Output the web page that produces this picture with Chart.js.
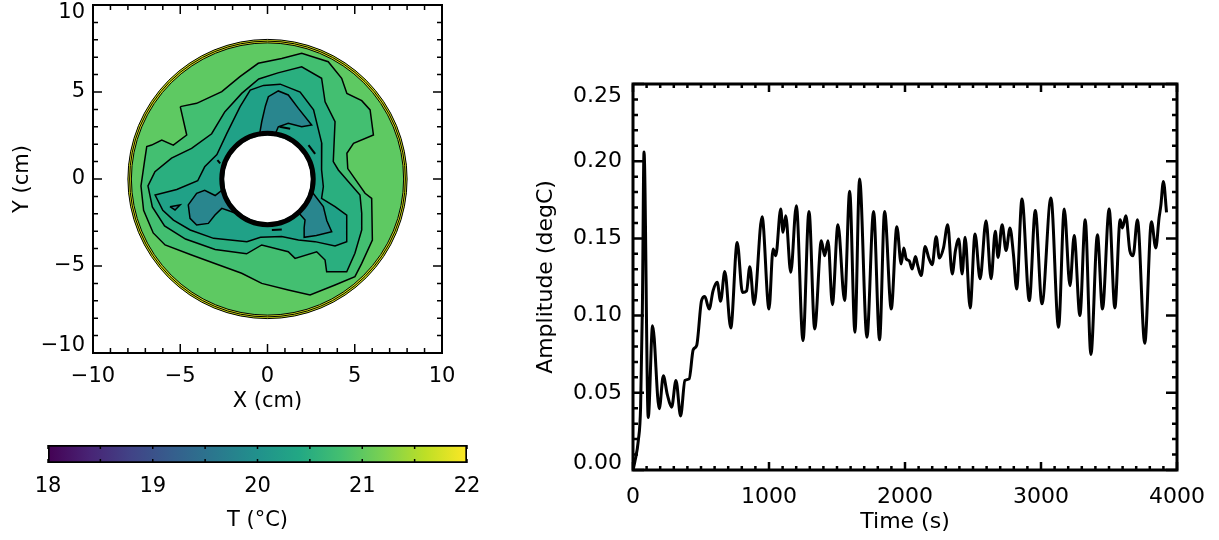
<!DOCTYPE html>
<html>
<head>
<meta charset="utf-8">
<title>Temperature map and amplitude</title>
<script src="https://cdn.jsdelivr.net/npm/chart.js@4.4.1/dist/chart.umd.min.js"></script>
<style>
  html, body { margin: 0; padding: 0; background: #fff; }
  body { width: 1219px; height: 540px; position: relative; overflow: hidden; }
  canvas { position: absolute; }
  #mapChart { left: 0; top: 0; }
  #barChart { left: 0; top: 420px; }
  #ampChart { left: 520px; top: 0; }
</style>
</head>
<body>
<canvas id="mapChart" width="470" height="420"></canvas>
<canvas id="barChart" width="490" height="120"></canvas>
<canvas id="ampChart" width="699" height="540"></canvas>
<script>
Chart.defaults.font.family = '"DejaVu Sans", "Liberation Sans", sans-serif';
Chart.defaults.color = '#000';

// ---- left panel: temperature map, positions in cm ----
const mapTicks = [-10, -5, 0, 5, 10];
const outerRadius = 8.0;
const rimRadii = [8.0, 7.9, 7.8];
const holeRadius = 2.5;
const holeRingRadius = 2.62;
// outside contour 1, then each band going inwards
const bandColors = ['#5ec962', '#43bf71', '#2aaf7f', '#20a187', '#29868e'];
const rimColor = '#d6e21c';

const contour1 = [
  [-5.0, 4.16], [-4.06, 4.35], [-2.62, 5.02], [-1.58, 5.88], [-0.53, 6.65], [0.81, 6.93],
  [1.96, 7.22], [3.48, 6.74], [4.25, 5.79], [4.55, 4.92], [5.4, 4.5], [5.88, 3.97],
  [6.07, 2.53], [4.93, 2.05], [4.55, 1.48], [4.6, 0.6], [5.59, -0.82], [5.97, -1.11],
  [6.01, -3.51], [5.4, -4.85], [5.01, -5.61], [3.87, -6.09], [2.44, -6.67], [1.19, -6.38],
  [-0.33, -6.0], [-1.48, -5.42], [-2.9, -4.9], [-4.35, -4.37], [-5.87, -3.79], [-6.55, -3.1],
  [-7.1, -1.8], [-7.25, -0.4], [-7.05, 1.0], [-6.92, 1.86], [-6.64, 1.95], [-6.06, 2.24],
  [-5.4, 1.95], [-4.63, 2.53]
];
const contour2 = [
  [-2.44, 3.87], [-1.48, 4.92], [-0.5, 5.75], [0.6, 6.1], [1.96, 6.45], [3.1, 5.79],
  [3.3, 4.44], [3.87, 3.29], [3.77, 1.0], [4.06, 0.52], [5.3, -0.92], [5.4, -1.97],
  [5.4, -2.93], [5.01, -4.27], [4.54, -5.33], [3.39, -5.33], [3.3, -4.66], [2.82, -4.18],
  [1.58, -4.56], [1.19, -4.18], [-0.33, -3.79], [-1.2, -4.3], [-3.0, -4.05], [-4.7, -3.45],
  [-5.9, -2.7], [-6.6, -1.6], [-6.85, -0.4], [-6.45, 0.42], [-5.5, 1.2], [-4.35, 1.76],
  [-3.2, 2.6]
];
const contour3 = [
  [-1.57, 4.16], [-0.99, 5.11], [-0.23, 5.38], [0.73, 5.45], [1.87, 5.0], [2.64, 3.97],
  [3.11, 2.05], [3.1, 0.52], [3.2, -0.44], [3.1, -1.11], [3.87, -1.59], [4.54, -2.07],
  [4.54, -3.6], [3.87, -3.85], [2.72, -3.6], [1.77, -3.51], [0.81, -3.31], [-0.4, -3.35],
  [-1.18, -3.6], [-3.09, -3.41], [-4.43, -2.93], [-5.39, -2.36], [-6.0, -1.8], [-6.44, -0.92],
  [-5.2, -0.6], [-4.0, -0.1], [-3.6, 0.7], [-2.9, 1.4], [-2.33, 2.62]
];
// coldest lobes, closed through the hole centre
const lobeTop = [
  [-0.45, 2.6], [-0.33, 3.29], [-0.12, 4.2], [0.05, 4.73], [0.62, 5.06], [1.19, 4.83],
  [1.77, 4.06], [2.53, 3.1], [1.96, 3.0], [1.19, 3.2], [0.62, 3.0], [0.45, 2.6], [0, 0]
];
const lobeLeft = [
  [-2.55, -0.6], [-3.0, -0.95], [-3.6, -0.65], [-4.06, -0.82], [-4.54, -1.49], [-4.44, -2.26],
  [-4.06, -2.64], [-3.39, -2.55], [-3.01, -2.07], [-2.62, -1.69], [-2.05, -1.88], [-1.29, -2.17],
  [-0.55, -2.55], [0, 0]
];
const lobeRight = [
  [2.3, 1.0], [2.5, 0.5], [2.6, -0.8], [3.2, -1.59], [3.4, -2.4], [3.68, -3.03], [2.8, -3.25],
  [2.1, -3.35], [2.1, -2.8], [2.15, -2.36], [1.75, -1.9], [0, 0]
];
const island = [[-5.59, -1.59], [-5.01, -1.49], [-5.3, -1.78]];
const dashTop = [[0.69, 3.0], [1.3, 2.89]];
const dashRight = [[2.35, 1.95], [2.73, 1.44]];
const dashLeft = [[-2.87, 1.09], [-2.71, 0.9]];
const dashBottom = [[0.25, -2.93], [0.82, -2.9]];

// ---- colour bar ----
const tempTicks = [18, 19, 20, 21, 22];
const viridis = ['#440154', '#482475', '#414487', '#355f8d', '#2a788e', '#21918c',
  '#22a884', '#44bf70', '#7ad151', '#bddf26', '#fde725'];

// ---- right panel: amplitude time series ----
const timeTicks = [0, 1000, 2000, 3000, 4000];
const ampTicks = [0, 0.05, 0.10, 0.15, 0.20, 0.25];
const timeS = [
  0, 15, 39, 56, 69, 81, 112, 144, 193, 223, 252, 284, 316, 350, 382, 413, 443, 468,
  504, 528, 560, 589, 619, 644, 675, 719, 766, 805, 835, 859, 890, 949, 1000, 1030,
  1050, 1086, 1103, 1123, 1160, 1201, 1250, 1294, 1336, 1385, 1409, 1434, 1466, 1507,
  1556, 1593, 1632, 1666, 1720, 1769, 1813, 1850, 1899, 1940, 1972, 1991, 2009, 2031,
  2053, 2077, 2094, 2119, 2148, 2175, 2200, 2229, 2253, 2283, 2314, 2347, 2371, 2395,
  2420, 2442, 2479, 2515, 2552, 2596, 2633, 2664, 2684, 2714, 2743, 2772, 2797, 2821,
  2860, 2914, 2958, 3007, 3073, 3129, 3171, 3213, 3244, 3286, 3325, 3367, 3415, 3452,
  3501, 3543, 3582, 3599, 3624, 3653, 3677, 3709, 3763, 3812, 3844, 3868, 3881, 3900, 3923
];
const amplitude = [
  0, 0.006, 0.019, 0.041, 0.105, 0.206, 0.034, 0.0935, 0.0396, 0.061, 0.049, 0.0407,
  0.058, 0.035, 0.058, 0.059, 0.078, 0.0806, 0.1097, 0.1123, 0.1043, 0.1162, 0.1216,
  0.1093, 0.1285, 0.092, 0.1474, 0.115, 0.116, 0.1317, 0.1071, 0.164, 0.1043, 0.1432,
  0.1388, 0.169, 0.154, 0.1647, 0.128, 0.1712, 0.0838, 0.1675, 0.0914, 0.1485, 0.1388,
  0.1485, 0.1071, 0.1589, 0.1097, 0.1805, 0.0892, 0.1885, 0.086, 0.1675, 0.0843, 0.1675,
  0.1043, 0.1576, 0.1335, 0.1438, 0.1367, 0.1355, 0.1302, 0.1382, 0.1324, 0.1259, 0.1447,
  0.1373, 0.133, 0.1511, 0.1373, 0.1438, 0.1589, 0.127, 0.1421, 0.1496, 0.127, 0.1507,
  0.105, 0.1529, 0.1238, 0.1615, 0.1238, 0.1546, 0.1377, 0.1589, 0.1421, 0.1568, 0.1399,
  0.1173, 0.1755, 0.1097, 0.168, 0.1076, 0.1762, 0.0924, 0.169, 0.1194, 0.1518, 0.100,
  0.1621, 0.0748, 0.1524, 0.1043, 0.169, 0.105, 0.162, 0.1568, 0.1647, 0.1421, 0.1388,
  0.162, 0.0821, 0.1608, 0.1438, 0.1632, 0.1712, 0.1869, 0.1669
];

// ---- helpers ----
const signed = v => (v < 0 ? '\u2212' + Math.abs(v) : String(v));

// end labels of a vertical axis sit inside the box, as in the original plot
const mapYLabel = v => {
  if (v === mapTicks[mapTicks.length - 1]) return ['', signed(v)];
  if (v === mapTicks[0]) return [signed(v), ''];
  return signed(v);
};
const ampYLabel = v => {
  const s = v.toFixed(2);
  if (v === ampTicks[ampTicks.length - 1]) return ['', '', s];
  if (v === ampTicks[0]) return [s, ''];
  return s;
};

function contourSet(pts, color, close, width) {
  const path = close ? pts.concat([pts[0]]) : pts;
  return {
    data: path.map(([x, y]) => ({ x, y })),
    areaColor: color,
    showLine: true,
    borderColor: '#000',
    borderWidth: width || 1.5,
    pointRadius: 0,
    tension: 0
  };
}

// keep tick labels from pushing the plot area in
const fixX = h => s => { s.height = h; s.paddingLeft = 0; s.paddingRight = 0; };
const fixY = w => s => { s.width = w; s.paddingTop = 0; s.paddingBottom = 0; };

function marks(scale, o, draw) {
  const n = Math.round((scale.max - scale.min) / o.minor);
  for (let i = 0; i <= n; i++) {
    const v = scale.min + i * o.minor;
    const major = o.major.some(m => Math.abs(m - v) < o.minor / 10);
    draw(scale.getPixelForValue(v), major ? o.majorLen : o.minorLen);
  }
}

// box round the plot with inward ticks on every side
function framePlugin(id, o) {
  return {
    id,
    afterDraw(chart) {
      const { ctx, chartArea: a, scales } = chart;
      ctx.save();
      ctx.strokeStyle = '#000';
      ctx.lineWidth = o.tickWidth;
      ctx.beginPath();
      if (o.x) {
        marks(scales.x, o.x, (p, len) => {
          ctx.moveTo(p, a.bottom); ctx.lineTo(p, a.bottom - len);
          ctx.moveTo(p, a.top); ctx.lineTo(p, a.top + len);
        });
      }
      if (o.y) {
        marks(scales.y, o.y, (p, len) => {
          ctx.moveTo(a.left, p); ctx.lineTo(a.left + len, p);
          ctx.moveTo(a.right, p); ctx.lineTo(a.right - len, p);
        });
      }
      ctx.stroke();
      if (o.boxWidth) {
        ctx.lineWidth = o.boxWidth;
        ctx.strokeRect(a.left, a.top, a.width, a.height);
      }
      ctx.restore();
    }
  };
}

// disk background, filled contour areas, rim and centre hole
const annulusPlugin = {
  id: 'annulus',
  beforeDatasetsDraw(chart) {
    const { ctx, scales: { x, y } } = chart;
    const cx = x.getPixelForValue(0), cy = y.getPixelForValue(0);
    ctx.save();
    ctx.fillStyle = bandColors[0];
    ctx.beginPath();
    ctx.arc(cx, cy, x.getPixelForValue(outerRadius) - cx, 0, 2 * Math.PI);
    ctx.fill();
    ctx.restore();
  },
  beforeDatasetDraw(chart, args) {
    const ds = chart.data.datasets[args.index];
    if (!ds.areaColor) return;
    const ctx = chart.ctx;
    const pts = args.meta.data;
    ctx.save();
    ctx.beginPath();
    pts.forEach((p, i) => (i ? ctx.lineTo(p.x, p.y) : ctx.moveTo(p.x, p.y)));
    ctx.closePath();
    ctx.fillStyle = ds.areaColor;
    ctx.fill();
    ctx.restore();
  },
  afterDatasetsDraw(chart) {
    const { ctx, scales: { x, y } } = chart;
    const cx = x.getPixelForValue(0), cy = y.getPixelForValue(0);
    const rpx = r => x.getPixelForValue(r) - cx;
    ctx.save();
    // rim
    ctx.fillStyle = rimColor;
    ctx.beginPath();
    ctx.arc(cx, cy, rpx(rimRadii[0]), 0, 2 * Math.PI);
    ctx.arc(cx, cy, rpx(rimRadii[rimRadii.length - 1]), 0, 2 * Math.PI, true);
    ctx.fill();
    ctx.strokeStyle = '#000';
    ctx.lineWidth = 1;
    rimRadii.forEach(r => {
      ctx.beginPath();
      ctx.arc(cx, cy, rpx(r), 0, 2 * Math.PI);
      ctx.stroke();
    });
    // hole
    ctx.fillStyle = '#fff';
    ctx.beginPath();
    ctx.arc(cx, cy, rpx(holeRadius), 0, 2 * Math.PI);
    ctx.fill();
    ctx.lineWidth = 5;
    ctx.beginPath();
    ctx.arc(cx, cy, rpx(holeRingRadius), 0, 2 * Math.PI);
    ctx.stroke();
    ctx.restore();
  }
};

// ---- left chart ----
new Chart(document.getElementById('mapChart'), {
  type: 'scatter',
  data: {
    datasets: [
      contourSet(dashTop, null, false, 2),
      contourSet(dashRight, null, false, 2),
      contourSet(dashLeft, null, false, 2),
      contourSet(dashBottom, null, false, 2),
      contourSet(island, bandColors[4], true),
      contourSet(lobeRight, bandColors[4], true),
      contourSet(lobeLeft, bandColors[4], true),
      contourSet(lobeTop, bandColors[4], true),
      contourSet(contour3, bandColors[3], true),
      contourSet(contour2, bandColors[2], true),
      contourSet(contour1, bandColors[1], true)
    ]
  },
  options: {
    responsive: false,
    animation: false,
    events: [],
    layout: { autoPadding: false, padding: { left: 0, right: 28, top: 5, bottom: 0 } },
    plugins: { legend: { display: false }, tooltip: { enabled: false } },
    scales: {
      x: {
        type: 'linear', min: -10, max: 10,
        afterBuildTicks: s => { s.ticks = mapTicks.map(value => ({ value })); },
        ticks: { callback: signed, padding: 11, font: { size: 21 }, maxRotation: 0, autoSkip: false },
        grid: { display: false, drawTicks: false },
        border: { display: false },
        title: { display: true, text: 'X (cm)', font: { size: 21 }, padding: { top: 0, bottom: 6 } },
        afterFit: fixX(67)
      },
      y: {
        type: 'linear', min: -10, max: 10,
        afterBuildTicks: s => { s.ticks = mapTicks.map(value => ({ value })); },
        ticks: { callback: mapYLabel, padding: 8, font: { size: 21, lineHeight: 0.72 }, autoSkip: false },
        grid: { display: false, drawTicks: false },
        border: { display: false },
        title: { display: true, text: 'Y (cm)', font: { size: 21 }, padding: { top: 10, bottom: 0 } },
        afterFit: fixY(93)
      }
    }
  },
  plugins: [annulusPlugin, framePlugin('mapFrame', {
    tickWidth: 1.5, boxWidth: 2,
    x: { major: mapTicks, minor: 1, majorLen: 9, minorLen: 5 },
    y: { major: mapTicks, minor: 1, majorLen: 9, minorLen: 5 }
  })]
});

// ---- colour bar ----
new Chart(document.getElementById('barChart'), {
  type: 'bar',
  data: {
    labels: ['T'],
    datasets: [{
      data: [[tempTicks[0], tempTicks[tempTicks.length - 1]]],
      backgroundColor: c => {
        const { ctx, chartArea, scales } = c.chart;
        if (!chartArea) return viridis[5];
        const g = ctx.createLinearGradient(
          scales.x.getPixelForValue(tempTicks[0]), 0,
          scales.x.getPixelForValue(tempTicks[tempTicks.length - 1]), 0);
        viridis.forEach((col, i) => g.addColorStop(i / (viridis.length - 1), col));
        return g;
      },
      borderColor: '#000',
      borderWidth: 2,
      borderSkipped: false,
      barPercentage: 1,
      categoryPercentage: 1
    }]
  },
  options: {
    indexAxis: 'y',
    responsive: false,
    animation: false,
    events: [],
    layout: { autoPadding: false, padding: { left: 48, right: 23, top: 25, bottom: 0 } },
    plugins: { legend: { display: false }, tooltip: { enabled: false } },
    scales: {
      x: {
        type: 'linear', min: 18, max: 22,
        afterBuildTicks: s => { s.ticks = tempTicks.map(value => ({ value })); },
        ticks: { padding: 11, font: { size: 21 }, maxRotation: 0, autoSkip: false },
        grid: { display: false, drawTicks: false },
        border: { display: false },
        title: { display: true, text: 'T (\u00B0C)', font: { size: 21 }, padding: { top: 0, bottom: 7 } },
        afterFit: fixX(77)
      },
      y: { display: false }
    }
  },
  plugins: [framePlugin('barFrame', {
    tickWidth: 1.5, boxWidth: 0,
    x: { major: tempTicks, minor: 0.5, majorLen: 4, minorLen: 4 }
  })]
});

// ---- right chart ----
new Chart(document.getElementById('ampChart'), {
  type: 'line',
  data: {
    datasets: [{
      data: timeS.map((t, i) => ({ x: t, y: amplitude[i] })),
      borderColor: '#000',
      borderWidth: 3,
      pointRadius: 0,
      cubicInterpolationMode: 'monotone',
      borderJoinStyle: 'round',
      fill: false
    }]
  },
  options: {
    responsive: false,
    animation: false,
    events: [],
    layout: { autoPadding: false, padding: { left: 0, right: 42, top: 84, bottom: 0 } },
    plugins: { legend: { display: false }, tooltip: { enabled: false } },
    scales: {
      x: {
        type: 'linear', min: 0, max: 4000,
        afterBuildTicks: s => { s.ticks = timeTicks.map(value => ({ value })); },
        ticks: { callback: v => String(v), padding: 14, font: { size: 22 }, maxRotation: 0, autoSkip: false },
        grid: { display: false, drawTicks: false },
        border: { display: false },
        title: { display: true, text: 'Time (s)', font: { size: 22 }, padding: { top: 0, bottom: 5 } },
        afterFit: fixX(70)
      },
      y: {
        type: 'linear', min: 0, max: 0.25,
        afterBuildTicks: s => { s.ticks = ampTicks.map(value => ({ value })); },
        ticks: { callback: ampYLabel, padding: 11, font: { size: 22, lineHeight: 0.57 }, autoSkip: false },
        grid: { display: false, drawTicks: false },
        border: { display: false },
        title: { display: true, text: 'Amplitude (degC)', font: { size: 22 }, padding: { top: 13, bottom: 0 } },
        afterFit: fixY(113)
      }
    }
  },
  plugins: [framePlugin('ampFrame', {
    tickWidth: 2.5, boxWidth: 3,
    x: { major: timeTicks, minor: 100, majorLen: 8, minorLen: 4 },
    y: { major: ampTicks, minor: 0.01, majorLen: 11, minorLen: 5 }
  })]
});
</script>
</body>
</html>
